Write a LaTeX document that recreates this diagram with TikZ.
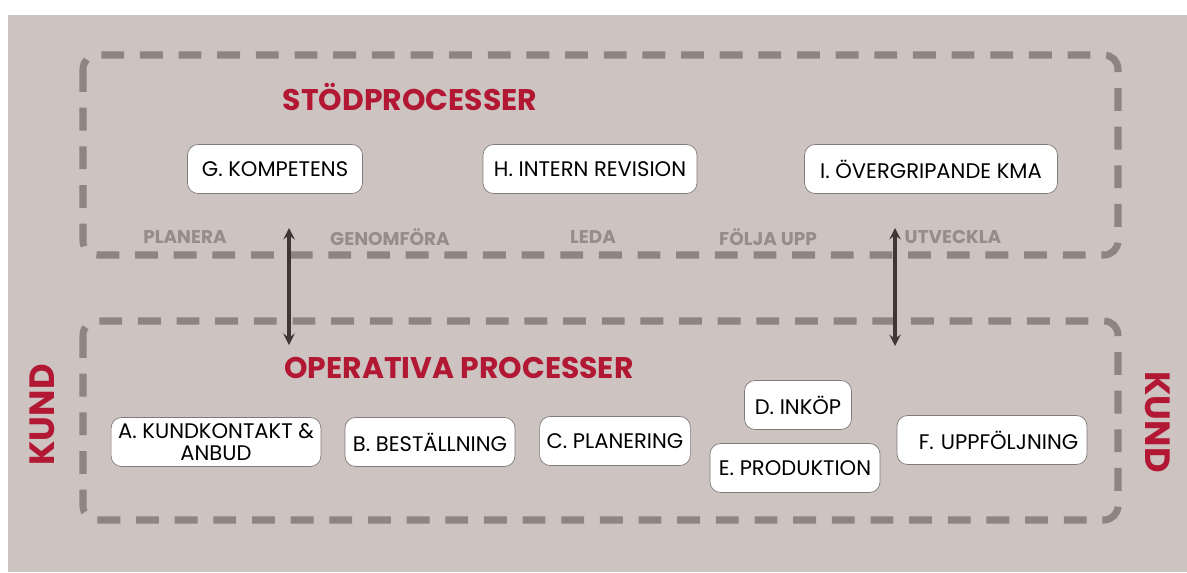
\documentclass[tikz,border=0pt]{standalone}
\usepackage{fontspec}
\setmainfont{Poppins}
\usepackage{xcolor}
\usetikzlibrary{arrows, positioning}
\definecolor{kmabg}{RGB}{205, 196, 194}
\definecolor{kmadash}{RGB}{142, 133, 131}
\definecolor{kmared}{RGB}{178, 24, 52}
\definecolor{kmalabel}{RGB}{150, 141, 139}
\definecolor{kmaarrow}{RGB}{64, 54, 54}
\definecolor{kmaedge}{RGB}{130, 122, 120}

\begin{document}
\begin{tikzpicture}[
    x=0.02cm, y=-0.02cm,
    process/.style={
        rectangle,
        rounded corners=6pt,
        draw=kmaedge,
        fill=white,
        thin,
        minimum height=0.98cm,
        inner xsep=4pt,
        align=center,
        font=\fontsize{12}{12.5}\selectfont
    },
    group/.style={
        draw=kmadash,
        line width=4pt,
        dash pattern=on 13pt off 9pt,
        rounded corners=8pt
    },
    heading/.style={
        font=\fontsize{17}{19}\selectfont\bfseries,
        text=kmared
    },
    phase/.style={
        font=\fontsize{10.5}{12}\selectfont\bfseries,
        text=kmalabel
    },
    customer/.style={
        font=\fontsize{20}{22}\selectfont\bfseries,
        text=kmared
    },
    link/.style={
        <->,
        >=stealth,
        line width=1.8pt,
        kmaarrow
    }
]

% Background
\fill[white] (0,0) rectangle (1187,572);
\fill[kmabg] (8,15) rectangle (1187,572);

% Process groups
\draw[group] (83,55) rectangle (1118,255);
\draw[group] (83,321) rectangle (1118,520);

% Headings
\node[heading] (stod) at (410,97) {STÖDPROCESSER};
\node[heading] (oper) at (459,368) {OPERATIVA PROCESSER};

% Support processes
\node[process, minimum width=3.5cm] (kompetens) at (275,169) {G. KOMPETENS};
\node[process, minimum width=4.28cm] (revision) at (590,169) {H. INTERN REVISION};
\node[process, minimum width=5.06cm] (kma) at (931,169) {I. ÖVERGRIPANDE KMA};

% Phases
\node[phase] (planera) at (185,237) {PLANERA};
\node[phase] (genomfora) at (390,237) {GENOMFÖRA};
\node[phase] (leda) at (593,237) {LEDA};
\node[phase] (folja) at (768,237) {FÖLJA UPP};
\node[phase] (utveckla) at (953,237) {UTVECKLA};

% Operative processes
\node[process, minimum width=4.06cm, inner ysep=2pt] (kundkontakt) at (216,442) {A. KUNDKONTAKT \&\\ANBUD};
\node[process, minimum width=3.4cm] (bestallning) at (430,442) {B. BESTÄLLNING};
\node[process, minimum width=3cm] (planering) at (615,441) {C. PLANERING};
\node[process, minimum width=2.14cm] (inkop) at (798,405) {D. INKÖP};
\node[process, minimum width=3.4cm] (produktion) at (795,468) {E. PRODUKTION};
\node[process, minimum width=3.8cm, text width=3.45cm, align=right] (uppfoljning) at (992,440) {F. UPPFÖLJNING};

% Customer
\node[customer, rotate=90] (kundl) at (42,415) {KUND};
\node[customer, rotate=-90] (kundr) at (1158,422) {KUND};

% Links between groups
\coordinate (ltop) at (289,228);
\coordinate (lbot) at (289,345);
\coordinate (rtop) at (895,228);
\coordinate (rbot) at (895,346);
\draw[link] (ltop) -- (lbot);
\draw[link] (rtop) -- (rbot);

\end{tikzpicture}
\end{document}
